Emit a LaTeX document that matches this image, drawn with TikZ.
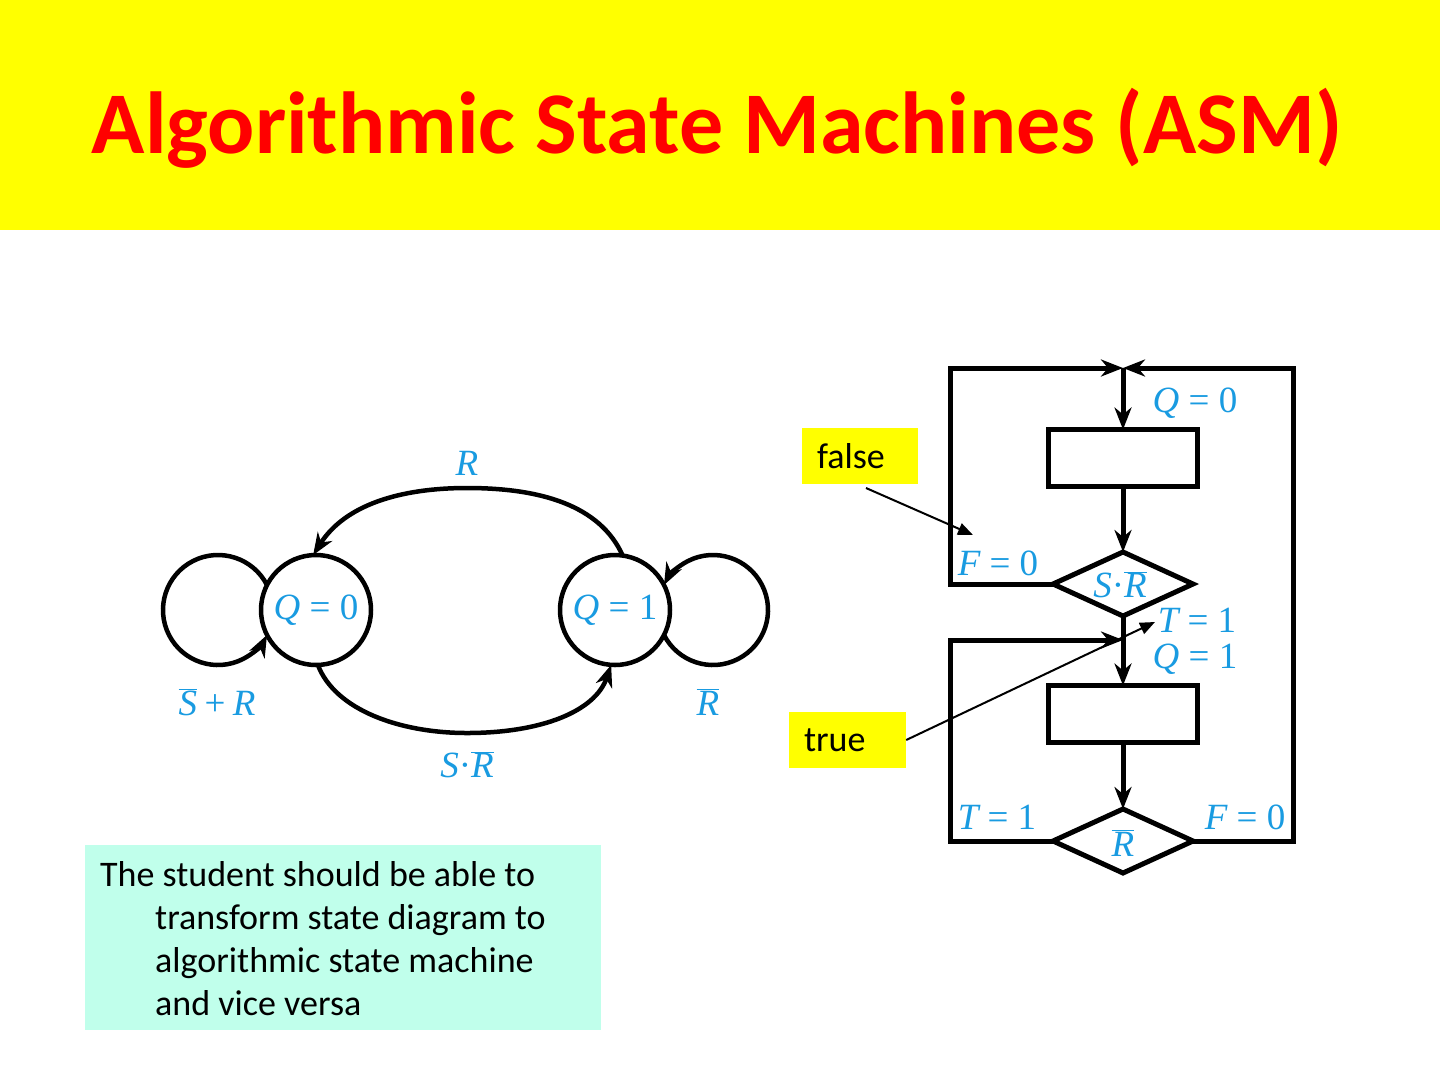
\documentclass[tikz,border=0pt]{standalone}
\usepackage{fontspec}
\setmainfont{Carlito}
\newfontfamily\tms{Liberation Serif}
\usetikzlibrary{arrows.meta,shapes.geometric}
\definecolor{lblue}{RGB}{25,155,225}
\definecolor{aqua}{RGB}{192,255,235}
\definecolor{yel}{RGB}{255,255,0}
\definecolor{tred}{RGB}{255,0,0}
\newcommand\mi[1]{{\tms\itshape #1}}
\newcommand\eqs{\hspace{0.25em}{\tms=}\hspace{0.25em}}
\newcommand\ob[1]{$\overline{\hbox{\tms\itshape #1}}$}
\newcommand\cdt{{\tms\textperiodcentered}}
\newcommand\pls{\hspace{0.2em}{\tms+}\hspace{0.2em}}
\begin{document}
\begin{tikzpicture}[x=1pt,y=1pt,
  lab/.style={text=lblue, font=\fontsize{37}{40}\selectfont, inner sep=0pt},
  st/.style={circle, draw, line width=4.5pt, minimum size=110pt, inner sep=0pt, outer sep=0pt, text=lblue, font=\fontsize{37}{40}\selectfont},
  arr/.style={-{Stealth[length=22pt,width=17pt,inset=7pt]}},
  sline/.style={line width=4.5pt},
  fline/.style={line width=5pt, line join=miter},
  boxn/.style={draw, line width=5pt, minimum width=149pt, minimum height=57pt, inner sep=0pt, outer sep=0pt},
  dia/.style={diamond, draw, line width=5pt, minimum width=140pt, minimum height=64pt, inner sep=0pt, outer sep=0pt},
  call/.style={fill=yel, minimum width=116pt, minimum height=56pt, inner sep=0pt},
  calltext/.style={font=\fontsize{36}{40}\selectfont, inner sep=0pt, anchor=west},
  thinarr/.style={line width=2pt, -{Triangle[length=15pt,width=12pt]}}]
\useasboundingbox (0,0) rectangle (1440,-1080);
\fill[white] (0,0) rectangle (1440,-1080);
% title bar
\fill[yel] (0,0) rectangle (1440,-230);
\node[font=\fontsize{88}{100}\selectfont\bfseries, text=tred, inner sep=0pt, anchor=base] (title) at (717,-153) {Algorithmic State Machines (ASM)};

% ---------- state diagram ----------
\node[st] (q0) at (316,-610) {\mi{Q}\eqs{\tms 0}};
\node[st] (q1) at (615,-610) {\mi{Q}\eqs{\tms 1}};
% self loops
\draw[sline,arr] (q0.153) arc[start angle=27, end angle=333, radius=55];
\draw[sline,arr] (q1.-27) arc[start angle=207, end angle=513, radius=55];
% top arc R
\draw[sline,arr] (q1.82) .. controls (600,-505) and (540,-488) .. (467,-488)
   .. controls (400,-488) and (345,-505) .. (q0.93);
% bottom arc S.Rbar
\draw[sline,arr] (q0.-88) .. controls (335,-710) and (400,-733) .. (467,-733)
   .. controls (540,-733) and (595,-712) .. (q1.-94);
\node[lab] (lR) at (467,-463) {\mi{R}};
\node[lab] (lSR) at (217,-702) {\ob{S}\pls\mi{R}};
\node[lab] (lRb) at (708,-702) {\ob{R}};
\node[lab] (lSRb) at (467,-765) {\mi{S}\cdt\ob{R}};

% ---------- ASM chart ----------
\coordinate (J1) at (1123,-368);
\coordinate (J2) at (1123,-640);
\node[boxn] (b1) at (1123,-458) {};
\node[dia] (d1) at (1123,-584) {};
\node[boxn] (b2) at (1123,-714) {};
\node[dia] (d2) at (1123,-841) {};
\draw[fline,arr] (J1) -- (b1.north);
\draw[fline,arr] (b1.south) -- (d1.north);
\draw[fline,arr] (d1.south) -- (b2.north);
\draw[fline,arr] (b2.south) -- (d2.north);
\draw[fline,arr] (d1.west) -- (950,-584) -- (950,-368) -- (J1);
\draw[fline,arr] (d2.east) -- (1293,-841) -- (1293,-368) -- (J1);
\draw[fline,arr] (d2.west) -- (950,-841) -- (950,-640) -- (J2);
\node[lab] (aQ0) at (1195,-403) {\mi{Q}\eqs{\tms 0}};
\node[lab] (aF0) at (998,-563) {\mi{F}\eqs{\tms 0}};
\node[lab] (aSR) at (1120,-585) {\mi{S}\cdt\ob{R}};
\node[lab] (aT1) at (1197,-620) {\mi{T}\eqs{\tms 1}};
\node[lab] (aQ1) at (1195,-659) {\mi{Q}\eqs{\tms 1}};
\node[lab] (aT1b) at (997,-817) {\mi{T}\eqs{\tms 1}};
\node[lab] (aF0b) at (1245,-817) {\mi{F}\eqs{\tms 0}};
\node[lab] (aRb) at (1123,-843) {\ob{R}};

% ---------- callouts ----------
\node[call] (fb) at (860,-456) {};
\node[calltext] (ft) at ([xshift=15pt]fb.west) {false};
\node[call, minimum width=117pt] (tb) at (847.5,-740) {};
\node[calltext] (tt) at ([xshift=15pt]tb.west) {true};
\coordinate (fs) at (866,-488);
\coordinate (fe) at (973,-535);
\coordinate (te) at (1155,-622);
\draw[thinarr] (fs) -- (fe);
\draw[thinarr] (tb.east) -- (te);

% ---------- bottom text box ----------
\node[fill=aqua, minimum width=516pt, minimum height=185pt, anchor=north west, inner sep=0pt] (tbx) at (85,-845) {};
\node[anchor=north west, inner sep=0pt, align=left, font=\fontsize{36}{43}\selectfont] (txt) at (100,-861)
  {The student should be able to\\ \hspace*{55pt}transform state diagram to\\ \hspace*{55pt}algorithmic state machine\\ \hspace*{55pt}and vice versa};
\end{tikzpicture}
\end{document}
